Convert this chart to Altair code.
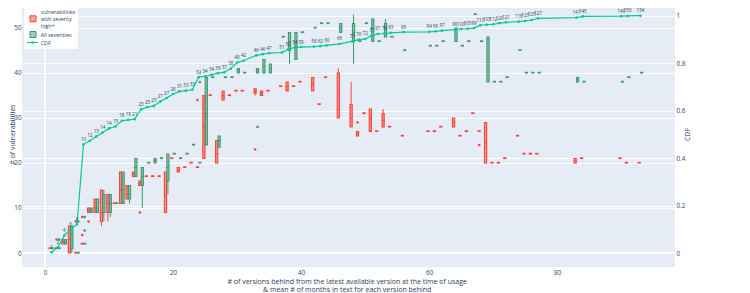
import altair as alt
import pandas as pd

# ---------------- data ----------------
versions_behind = [1, 2, 3, 4, 5, 6, 7, 8, 9, 10, 11, 12, 13, 14, 15, 16, 17, 18, 19, 20,
                   21, 22, 23, 24, 25, 26, 27, 28, 29, 30, 31, 33, 34, 35, 37, 38, 39, 40,
                   42, 43, 44, 46, 48, 49, 50, 51, 52, 53, 54, 56, 60, 61, 62, 64, 65, 66,
                   67, 68, 69, 70, 71, 72, 74, 75, 76, 77, 83, 84, 90, 91, 93]

cdf_values = [0.003, 0.024, 0.073, 0.101, 0.121, 0.457, 0.473, 0.491, 0.508, 0.525, 0.533,
              0.557, 0.561, 0.564, 0.606, 0.615, 0.620, 0.638, 0.653, 0.670, 0.681, 0.684,
              0.688, 0.741, 0.745, 0.751, 0.758, 0.761, 0.777, 0.803, 0.810, 0.833, 0.838,
              0.842, 0.845, 0.859, 0.866, 0.868, 0.870, 0.872, 0.875, 0.881, 0.892, 0.899,
              0.902, 0.916, 0.923, 0.925, 0.928, 0.931, 0.932, 0.934, 0.937, 0.941, 0.944,
              0.945, 0.948, 0.960, 0.962, 0.964, 0.969, 0.972, 0.975, 0.978, 0.982, 0.989,
              0.992, 0.997, 0.998, 0.999, 1.0]

months_text = ["1", "2", "4", "6", "8", "10", "12", "13", "14", "14", "15", "18", "19", "21",
               "23", "25", "25", "27", "27", "28", "31", "33", "33", "32", "34", "34", "39",
               "37", "38", "48", "42", "46", "46", "47", "51", "52", "54", "58", "58", "62",
               "60", "66", "71", "76", "72", "77", "81", "79", "83", "89", "94", "96", "97",
               "98", "100", "105", "99", "110", "103", "112", "120", "121", "118", "123",
               "125", "127", "141", "145", "149", "150", "154"]

# vulnerabilities with severity high+ (box statistics per x)
high_lo = [1, 1, 2, 0, 0, 2, 9, 9, 6, 7, 11, 11, 12, 17, 15, 17, 17, 17, 9, 21, 18, 19, 20, 19,
           21, 35, 20, 34, 35, 36, 36, 35, 35, 36, 37, 36, 37, 38, 36, 33, 39, 30, 28, 26, 31,
           27, 27, 28, 28, 26, 27, 27, 28, 28, 26, 27, 31, 27, 20, 20, 20, 21, 26, 22, 22, 22,
           20, 21, 21, 20, 20]
high_q1 = [1, 1, 2, 0, 0, 2, 9, 9, 7, 9, 11, 11, 12, 17, 15, 17, 17, 17, 9, 21, 18, 19, 20, 19,
           21, 35, 20, 34, 35, 36, 36, 35.5, 35, 36, 37, 36, 37, 38, 36, 33, 39, 30, 28, 26, 31,
           27, 27, 28, 28, 26, 27, 27, 28, 28, 26, 27, 31, 27, 20, 20, 20, 21, 26, 22, 22, 22,
           20, 21, 21, 20, 20]
high_med = [1, 1, 2.5, 3, 0, 2, 9.5, 10, 9, 11, 11, 14, 13, 17.5, 15.5, 17, 17, 17, 13, 21, 18.5,
            19, 20, 19, 28, 35, 22, 35, 35, 36, 36, 36, 35.5, 36, 37, 37, 37, 38, 37.5, 33, 39,
            36, 30, 26.5, 31, 30, 27, 29.5, 28, 26, 27, 27, 28, 29, 26, 27, 31, 27, 24.5, 20,
            20, 21, 26, 22, 22, 22, 20.5, 21, 21, 20, 20]
high_q3 = [1, 1, 3, 6, 0, 2, 10, 12, 14, 13, 11, 18, 15, 18, 16, 17, 17, 17, 18, 21, 19, 19, 20,
           19, 35, 35, 25, 36, 35, 36, 36, 36.5, 36, 36, 37, 38, 37, 38, 39, 33, 39, 40, 33, 27,
           31, 32, 27, 31, 28, 26, 27, 27, 28, 30, 26, 27, 31, 27, 29, 20, 20, 21, 26, 22, 22,
           22, 21, 21, 21, 20, 20]
high_hi = [1, 1, 3, 6, 0, 2, 10, 12, 14, 13, 11, 18, 15, 18, 16, 17, 17, 17, 18, 21, 19, 19, 20,
           19, 35, 35, 25, 36, 35, 36, 36, 36.5, 36, 36, 37, 38, 37, 38, 39, 33, 39, 41, 38, 27,
           31, 32, 27, 32, 28, 26, 27, 27, 28, 30, 26, 27, 31, 27, 29, 20, 20, 21, 26, 22, 22,
           22, 21, 21, 21, 20, 20]
high_out_x = [2, 5, 6, 6, 7, 15, 24, 33, 49, 68]
high_out_v = [3, 7, 4, 8, 7, 9, 34, 23, 29, 24]

# all severities
all_lo = [1, 1, 2, 0, 0, 2, 9, 9, 7, 8, 11, 11, 11, 17, 10, 20, 20, 21, 13, 22, 21, 22, 24, 20,
          24, 39, 23.5, 39, 39, 40, 40, 40, 40, 40, 48, 42, 43, 49, 50, 51, 51, 49, 42, 47, 51,
          47, 47, 48, 48, 45, 46, 46, 47, 47, 46, 47, 53, 47, 38, 38, 38, 39, 45, 40, 40, 40,
          38, 38, 38, 39, 40]
all_q1 = [1, 1, 2, 1, 0, 2, 9, 9, 9, 9, 11, 11, 12, 17, 15, 20, 20, 21, 16, 22, 21, 22, 24, 20,
          24, 39, 23.5, 39, 39, 40, 40, 40, 40, 40, 48, 45, 43, 49, 50, 51, 51, 49, 47, 47, 51,
          47, 47, 48, 48, 45, 46, 46, 47, 47, 46, 47, 53, 47, 38, 38, 38, 39, 45, 40, 40, 40,
          38, 38, 38, 39, 40]
all_med = [1, 1, 2.5, 4, 0, 2, 9.5, 10, 10, 11, 11, 14, 13, 19, 17, 20, 20.5, 21, 19, 22, 21,
           22, 24, 20, 31, 39, 25, 39, 39, 40.5, 40, 40.5, 41.5, 41, 48, 47, 46, 49, 50, 51,
           51, 50, 49, 47, 51, 50, 47, 50, 48, 45, 46, 46, 47, 48.5, 46, 47, 53, 47, 43, 38,
           38, 39, 45, 40, 40, 40, 38.5, 38, 38, 39, 40]
all_q3 = [1, 1, 3, 6, 0, 2, 10, 12, 13, 13, 11, 18, 15, 21, 19, 20, 21, 21, 22, 22, 21, 22, 24,
          20, 39, 39, 26, 39, 39, 41, 40, 41, 43, 42, 48, 49, 49, 49, 50, 51, 51, 51, 51, 47,
          51, 52, 47, 51, 48, 45, 46, 46, 47, 50, 46, 47, 53, 47, 48, 38, 38, 39, 45, 40, 40,
          40, 39, 38, 38, 39, 40]
all_hi = [1, 1, 3, 6, 0, 2, 10, 12, 14, 13, 11, 18, 15, 21, 19, 20, 21, 21, 22, 22, 21, 22, 24,
          20, 39, 39, 26, 39, 39, 41, 40, 41, 43, 42, 48, 49, 49, 49, 50, 51, 51, 51, 53, 47,
          51, 52, 47, 52, 48, 45, 46, 46, 47, 50, 46, 47, 53, 47, 48, 38, 38, 39, 45, 40, 40,
          40, 39, 38, 38, 39, 40]
all_out_x = [2, 5, 6, 6, 24, 33]
all_out_v = [3, 7, 5, 8, 38, 28]

# ---------------- styling ----------------
RED = "#FF4136"
GREEN = "#3D9970"
LINE = "#00cc96"
TXT = "#2a3f5f"
BG = "#E5ECF6"
OFF = 0.19      # group offset of each box from its x
HALF = 0.17     # half width of a box


def box_frame(name, lo, q1, med, q3, hi, off):
    df = pd.DataFrame({"x": versions_behind, "lo": lo, "q1": q1, "med": med,
                       "q3": q3, "hi": hi})
    df["series"] = name
    df["xc"] = df["x"] + off
    df["xl"] = df["xc"] - HALF
    df["xr"] = df["xc"] + HALF
    df["top"] = df["q3"].where(df["q3"] > df["q1"], df["q1"] + 0.15)
    return df


boxes = pd.concat([
    box_frame("high", high_lo, high_q1, high_med, high_q3, high_hi, -OFF),
    box_frame("all", all_lo, all_q1, all_med, all_q3, all_hi, OFF),
], ignore_index=True)

outliers = pd.concat([
    pd.DataFrame({"x": high_out_x, "v": high_out_v, "series": "high"}),
    pd.DataFrame({"x": all_out_x, "v": all_out_v, "series": "all"}),
], ignore_index=True)
outliers["xc"] = outliers["x"] + outliers["series"].map({"high": -OFF, "all": OFF})

cdf_df = pd.DataFrame({"x": versions_behind, "cdf": cdf_values, "label": months_text})
zero_df = pd.DataFrame({"v": [0]})

xs = alt.Scale(domain=[-3.6, 98.4], nice=False, zero=False)
yl = alt.Scale(domain=[-3.111, 54.444], nice=False, zero=False)
yr = alt.Scale(domain=[-0.059, 1.0325], nice=False, zero=False)
cscale = alt.Scale(domain=["high", "all"], range=[RED, GREEN])

x_axis = alt.Axis(values=[0, 20, 40, 60, 80], grid=False, domain=False, ticks=False,
                  tickSize=0, labelPadding=2, labelFontSize=6.3, labelColor=TXT,
                  title=["# of versions behind from the latest available version at the time of usage",
                         "& mean # of months in text for each version behind"],
                  titleFontSize=7, titleFontWeight="normal", titleColor=TXT,
                  titleX=324.7, titleY=10, titleBaseline="top", titleAlign="center",
                  titleLineHeight=8.3, labelFlush=False)
yl_axis = alt.Axis(orient="left", values=[0, 10, 20, 30, 40, 50], grid=True, gridColor="white",
                   gridWidth=1, domain=False, ticks=False, tickSize=0, labelPadding=1,
                   labelFontSize=6.3, labelColor=TXT, title="# of vulnerabilities",
                   titleFontSize=7, titleFontWeight="normal", titleColor=TXT, titleX=-10,
                   titleY=126, titleAngle=270, titleBaseline="middle", titleAlign="center")
yr_axis = alt.Axis(orient="right", values=[0, 0.2, 0.4, 0.6, 0.8, 1], format="~g", grid=True,
                   gridColor="white", gridWidth=1, domain=False, ticks=False, tickSize=0,
                   labelPadding=1, labelFontSize=6.3, labelColor=TXT, title="CDF",
                   titleFontSize=7, titleFontWeight="normal", titleColor=TXT, titleX=12,
                   titleY=126, titleAngle=270, titleBaseline="middle", titleAlign="center")

col = alt.Color("series:N", scale=cscale, legend=None)

# ---------------- left (boxes) ----------------
zero_h = alt.Chart(zero_df).mark_rule(color="white", strokeWidth=2).encode(
    y=alt.Y("v:Q", scale=yl, axis=yl_axis))
zero_v = alt.Chart(zero_df).mark_rule(color="white", strokeWidth=2).encode(
    x=alt.X("v:Q", scale=xs, axis=x_axis))

base = alt.Chart(boxes)
wlow = base.transform_filter("datum.lo < datum.q1").mark_rule(strokeWidth=1).encode(
    x=alt.X("xc:Q", scale=xs, axis=x_axis), y=alt.Y("lo:Q", scale=yl, axis=yl_axis),
    y2="q1:Q", color=col)
whigh = base.transform_filter("datum.hi > datum.q3").mark_rule(strokeWidth=1).encode(
    x=alt.X("xc:Q", scale=xs, axis=x_axis), y=alt.Y("q3:Q", scale=yl, axis=yl_axis),
    y2="hi:Q", color=col)
rect = base.mark_rect(fillOpacity=0.5, strokeWidth=1.1).encode(
    x=alt.X("xl:Q", scale=xs, axis=x_axis), x2="xr:Q",
    y=alt.Y("q1:Q", scale=yl, axis=yl_axis), y2="top:Q",
    fill=alt.Fill("series:N", scale=cscale, legend=None),
    stroke=alt.Stroke("series:N", scale=cscale, legend=None))
median = base.transform_filter("datum.q3 > datum.q1").mark_rule(strokeWidth=1).encode(
    x=alt.X("xl:Q", scale=xs, axis=x_axis), x2="xr:Q",
    y=alt.Y("med:Q", scale=yl, axis=yl_axis), color=col)
outl = alt.Chart(outliers).mark_point(filled=True, size=7, opacity=1).encode(
    x=alt.X("xc:Q", scale=xs, axis=x_axis), y=alt.Y("v:Q", scale=yl, axis=yl_axis),
    color=col)

left = alt.layer(zero_h, zero_v, wlow, whigh, rect, median, outl)

# ---------------- right (CDF) ----------------
cbase = alt.Chart(cdf_df).encode(
    x=alt.X("x:Q", scale=xs, axis=x_axis), y=alt.Y("cdf:Q", scale=yr, axis=yr_axis))
cline = cbase.mark_line(color=LINE, strokeWidth=1.2)
cpts = cbase.mark_point(filled=True, size=7, color=LINE, opacity=1)
ctxt = cbase.mark_text(dy=-4.5, fontSize=4.5, color=TXT).encode(text="label:N")
right = alt.layer(cline, cpts, ctxt)

# ---------------- legend ----------------
one = pd.DataFrame({"a": [0]})
leg_bg = alt.Chart(one).mark_rect(fill="white").encode(
    x=alt.value(2), x2=alt.value(56), y=alt.value(0), y2=alt.value(41))
leg_red = alt.Chart(one).mark_rect(fill=RED, fillOpacity=0.5, stroke=RED, strokeWidth=1).encode(
    x=alt.value(8), x2=alt.value(14), y=alt.value(7.8), y2=alt.value(13.8))
leg_green = alt.Chart(one).mark_rect(fill=GREEN, fillOpacity=0.5, stroke=GREEN, strokeWidth=1).encode(
    x=alt.value(8), x2=alt.value(14), y=alt.value(23.5), y2=alt.value(29.5))
leg_line = alt.Chart(one).mark_rule(color=LINE, strokeWidth=1.2).encode(
    x=alt.value(5), x2=alt.value(16), y=alt.value(34.5))
leg_pt = alt.Chart(one).mark_point(filled=True, size=7, color=LINE, opacity=1).encode(
    x=alt.value(10.5), y=alt.value(34.5))
leg_texts = []
for txt, yy in [("vulnerabilities", 3.8), ("with severity", 10.8), ("high+", 17.8),
                ("All severities", 26.5), ("CDF", 34.5)]:
    leg_texts.append(alt.Chart(one).mark_text(text=txt, align="left", baseline="middle",
                                              fontSize=5.3, color=TXT).encode(
        x=alt.value(18.7), y=alt.value(yy)))
legend = alt.layer(leg_bg, leg_red, leg_green, leg_line, leg_pt, *leg_texts)

chart = alt.layer(left, right, legend).resolve_scale(y="independent").properties(
    width=653, height=259,
    padding={"left": 14, "top": 0, "right": 67, "bottom": 26},
    autosize=alt.AutoSizeParams(type="none"),
).configure(font="Open Sans").configure_view(fill=BG, strokeWidth=0)

chart.save("out.html", embed_options={"renderer": "svg", "actions": False})
